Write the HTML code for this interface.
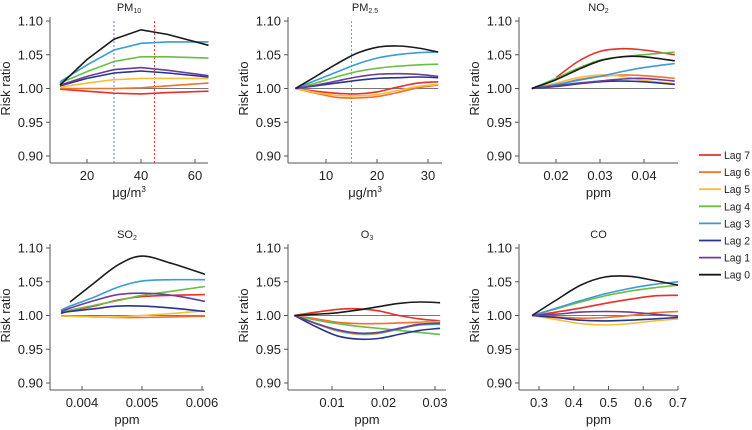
<!DOCTYPE html>
<html><head><meta charset="utf-8"><style>
html,body{margin:0;padding:0;background:#fff;}
svg{display:block;font-family:"Liberation Sans",sans-serif;}
</style></head><body>
<svg id="c" width="752" height="430" viewBox="0 0 752 430" xmlns="http://www.w3.org/2000/svg"></svg>
<script>
const lagNames = ["Lag 7","Lag 6","Lag 5","Lag 4","Lag 3","Lag 2","Lag 1","Lag 0"];
const lagColors = ["#e8302a","#f07030","#f7be3c","#6cbd45","#3a9bd6","#27358f","#6b3d9a","#1a1a1a"];
const yTicks = [0.90,0.95,1.00,1.05,1.10];

const pm10X = [10,20,30,40,50,65];
const pm10Vals = [
 [0.999,0.996,0.993,0.992,0.994,0.996],
 [1.000,1.000,1.000,1.001,1.004,1.008],
 [1.002,1.008,1.013,1.015,1.015,1.015],
 [1.008,1.025,1.040,1.047,1.047,1.045],
 [1.010,1.035,1.057,1.067,1.069,1.069],
 [1.004,1.015,1.023,1.026,1.023,1.017],
 [1.005,1.018,1.028,1.031,1.027,1.019],
 [1.005,1.043,1.073,1.087,1.080,1.064]];
const pm10Ticks = [20,40,60];

const pm25X = [4,8,12,16,20,24,28,32];
const pm25Vals = [
 [1.0,0.996,0.993,0.992,0.995,1.002,1.008,1.010],
 [1.0,0.993,0.987,0.986,0.988,0.994,1.001,1.005],
 [1.0,0.994,0.990,0.989,0.991,0.997,1.003,1.006],
 [1.0,1.008,1.017,1.025,1.030,1.033,1.035,1.036],
 [1.0,1.012,1.024,1.036,1.045,1.050,1.053,1.054],
 [1.0,1.004,1.008,1.012,1.015,1.016,1.017,1.016],
 [1.0,1.005,1.011,1.017,1.021,1.022,1.021,1.018],
 [1.0,1.018,1.036,1.052,1.061,1.063,1.060,1.054]];
const pm25Ticks = [10,20,30];

const no2X = [0.0145,0.02,0.025,0.03,0.035,0.04,0.047];
const no2Vals = [
 [null,1.016,1.040,1.055,1.059,1.057,1.050],
 [1.0,1.005,1.013,1.018,1.020,1.019,1.015],
 [1.0,1.008,1.016,1.020,1.018,1.012,1.007],
 [1.0,1.015,1.030,1.042,1.047,1.050,1.054],
 [1.0,1.006,1.012,1.018,1.025,1.031,1.037],
 [1.0,1.003,1.007,1.010,1.011,1.010,1.006],
 [1.0,1.004,1.008,1.011,1.014,1.015,1.011],
 [1.0,1.013,1.028,1.041,1.047,1.047,1.041]];
const no2Ticks = [0.02,0.03,0.04];

const so2X = [0.00365,0.0038,0.0042,0.0046,0.005,0.0055,0.00605];
const so2Vals = [
 [1.003,1.007,1.014,1.023,1.028,1.030,1.031],
 [1.000,0.999,0.998,0.997,0.997,0.998,0.999],
 [0.999,0.999,0.998,0.998,1.000,1.003,1.007],
 [1.005,1.008,1.015,1.022,1.030,1.036,1.043],
 [1.008,1.014,1.027,1.042,1.051,1.053,1.053],
 [1.004,1.006,1.010,1.014,1.014,1.011,1.006],
 [1.006,1.011,1.022,1.031,1.033,1.030,1.021],
 [null,1.020,1.048,1.075,1.088,1.077,1.061]];
const so2Ticks = [0.004,0.005,0.006];

const o3X = [0.0027,0.007,0.011,0.015,0.019,0.023,0.027,0.031];
const o3Vals = [
 [1.0,1.005,1.009,1.010,1.007,1.000,0.995,0.992],
 [1.0,0.995,0.990,0.988,0.988,0.989,0.990,0.991],
 [1.0,0.987,0.977,0.972,0.973,0.980,0.988,0.991],
 [1.0,0.993,0.988,0.984,0.981,0.978,0.975,0.972],
 [1.0,0.988,0.978,0.973,0.974,0.980,0.986,0.987],
 [1.0,0.983,0.970,0.965,0.966,0.972,0.978,0.981],
 [1.0,0.988,0.979,0.974,0.975,0.981,0.987,0.989],
 [1.0,1.002,1.004,1.008,1.013,1.018,1.020,1.019]];
const o3Ticks = [0.01,0.02,0.03];

const coX = [0.28,0.35,0.42,0.49,0.56,0.63,0.7];
const coVals = [
 [1.0,1.005,1.011,1.018,1.024,1.029,1.030],
 [1.0,0.998,0.996,0.997,1.000,1.004,1.006],
 [1.0,0.994,0.988,0.986,0.988,0.992,0.995],
 [1.0,1.010,1.020,1.029,1.036,1.041,1.045],
 [1.0,1.011,1.022,1.032,1.040,1.046,1.050],
 [1.0,0.997,0.993,0.992,0.993,0.995,0.997],
 [1.0,1.002,1.005,1.006,1.005,1.002,0.999],
 [1.0,1.023,1.045,1.057,1.058,1.052,1.045]];
const coTicks = [0.3,0.4,0.5,0.6,0.7];

const svg = document.getElementById('c');
const NS = 'http://www.w3.org/2000/svg';
function mk(tag, attrs, parent){const e=document.createElementNS(NS,tag);for(const k in attrs)e.setAttribute(k,attrs[k]);(parent||svg).appendChild(e);return e;}

const panels = [
 {key:'pm10',title:'PM',sub:'10',xs:pm10X,vals:pm10Vals,ticks:pm10Ticks,fmt:v=>String(v),ax:50,axEnd:208,ref:[20,87],k:2.7,top:21,bot:156,base:163,label:'μg/m',sup:'3',smooth:false,vl:[[30,'#6a7bd8'],[45,'#e8302a']]},
 {key:'pm25',title:'PM',sub:'2.5',xs:pm25X,vals:pm25Vals,ticks:pm25Ticks,fmt:v=>String(v),ax:288,axEnd:442,ref:[10,326],k:5.1,top:21,bot:156,base:163,label:'μg/m',sup:'3',smooth:true,vl:[[15,'#6cbd45']]},
 {key:'no2',title:'NO',sub:'2',xs:no2X,vals:no2Vals,ticks:no2Ticks,fmt:v=>v.toFixed(2),ax:519,axEnd:678,ref:[0.02,556],k:4400,top:21,bot:156,base:163,label:'ppm',smooth:true,vl:[]},
 {key:'so2',title:'SO',sub:'2',xs:so2X,vals:so2Vals,ticks:so2Ticks,fmt:v=>v.toFixed(3),ax:50,axEnd:204,ref:[0.004,82],k:60000,top:248,bot:383,base:390,label:'ppm',smooth:true,vl:[]},
 {key:'o3',title:'O',sub:'3',xs:o3X,vals:o3Vals,ticks:o3Ticks,fmt:v=>v.toFixed(2),ax:288,axEnd:446,ref:[0.01,332],k:5150,top:248,bot:383,base:390,label:'ppm',smooth:true,vl:[]},
 {key:'co',title:'CO',sub:'',xs:coX,vals:coVals,ticks:coTicks,fmt:v=>v.toFixed(1),ax:519,axEnd:678,ref:[0.3,539],k:347.5,top:248,bot:383,base:390,label:'ppm',smooth:true,vl:[]}
];

function pathFor(pts, smooth){
  if(!smooth) return 'M'+pts.map(p=>p[0].toFixed(1)+','+p[1].toFixed(1)).join('L');
  let d='M'+pts[0][0].toFixed(1)+','+pts[0][1].toFixed(1);
  for(let i=0;i<pts.length-1;i++){
    const p0=pts[i-1]||pts[i],p1=pts[i],p2=pts[i+1],p3=pts[i+2]||p2;
    const c1=[p1[0]+(p2[0]-p0[0])/6,p1[1]+(p2[1]-p0[1])/6];
    const c2=[p2[0]-(p3[0]-p1[0])/6,p2[1]-(p3[1]-p1[1])/6];
    d+='C'+c1[0].toFixed(1)+','+c1[1].toFixed(1)+' '+c2[0].toFixed(1)+','+c2[1].toFixed(1)+' '+p2[0].toFixed(1)+','+p2[1].toFixed(1);
  }
  return d;
}

panels.forEach(p=>{
  const g=mk('g',{});
  
  
  const X=v=>p.ref[1]+(v-p.ref[0])*p.k;
  const Y=v=>p.bot-(v-0.90)/0.20*(p.bot-p.top);
  const cx=(p.ax+p.axEnd)/2;
  const t=mk('text',{x:cx,y:p.top-10,'text-anchor':'middle','font-size':'11',fill:'#222'},g);
  
  
  t.textContent=p.title;
  if(p.sub){const s=mk('tspan',{'font-size':'7',dy:'2'},t);s.textContent=p.sub;}
  const ya=mk('line',{x1:p.ax,y1:p.top-4,x2:p.ax,y2:p.base,stroke:'#555','stroke-width':1},g);
  
  
  const xa=mk('line',{x1:p.ax,y1:p.base,x2:p.axEnd,y2:p.base,stroke:'#555','stroke-width':1},g);
  
  
  yTicks.forEach(v=>{
    mk('line',{x1:p.ax-4,y1:Y(v),x2:p.ax,y2:Y(v),stroke:'#555'},g);
    const tl=mk('text',{x:p.ax-7,y:Y(v)+4.5,'text-anchor':'end','font-size':'13',fill:'#222'},g);
    
    
    tl.textContent=v.toFixed(2);
  });
  p.ticks.forEach(v=>{
    mk('line',{x1:X(v),y1:p.base,x2:X(v),y2:p.base-4,stroke:'#555'},g);
    const tl=mk('text',{x:X(v),y:p.base+17,'text-anchor':'middle','font-size':'13',fill:'#222'},g);
    
    
    tl.textContent=p.fmt(v);
  });
  const yl=mk('text',{x:0,y:0,'text-anchor':'middle','font-size':'13',fill:'#222',transform:`translate(${p.ax-40},${(p.top+p.bot)/2}) rotate(-90)`},g);
  
  
  yl.textContent='Risk ratio';
  const xl=mk('text',{x:cx,y:p.base+34,'text-anchor':'middle','font-size':'13',fill:'#222'},g);
  
  
  xl.textContent=p.label;
  if(p.sup){const s=mk('tspan',{'font-size':'8',dy:'-5'},xl);s.textContent=p.sup;}
  const x0=X(p.xs[0]),x1=X(p.xs[p.xs.length-1]);
  const rl=mk('line',{x1:x0,y1:Y(1),x2:x1,y2:Y(1),stroke:'#777','stroke-width':1},g);
  
  
  p.vl.forEach(([v,c])=>{
    const l=mk('line',{x1:X(v),y1:p.top,x2:X(v),y2:p.base,stroke:c,'stroke-width':1,'stroke-dasharray':'2,2'},g);
    
    
  });
  p.vals.forEach((arr,i)=>{
    const pts=[];
    arr.forEach((v,j)=>{if(v!==null)pts.push([X(p.xs[j]),Y(v)]);});
    const path=mk('path',{d:pathFor(pts,p.smooth),fill:'none',stroke:lagColors[i],'stroke-width':1.6},g);
    
    
  });
});

const lg=mk('g',{});


lagNames.forEach((n,i)=>{
  const y=155+i*17.1;
  const e=mk('g',{},lg);
  
  
  mk('line',{x1:699,y1:y,x2:721,y2:y,stroke:lagColors[i],'stroke-width':1.8},e);
  const t=mk('text',{x:724,y:y+4,'font-size':'11',fill:'#222',textLength:'26',lengthAdjust:'spacingAndGlyphs'},e);
  t.textContent=n;
});
</script>
</body></html>
